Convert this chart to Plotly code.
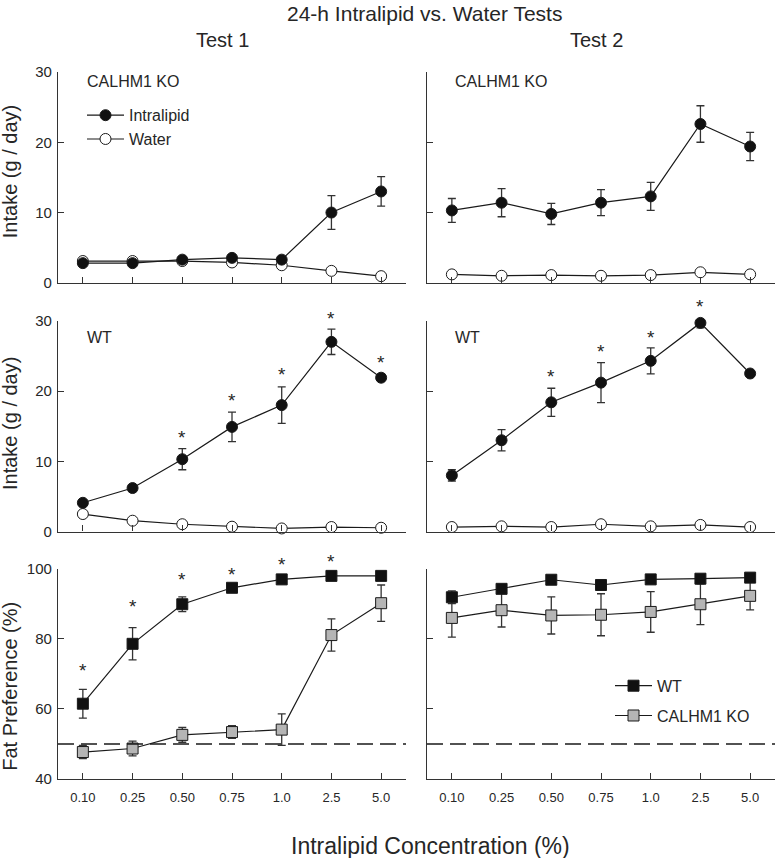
import plotly.graph_objects as go

# ---------------- data ----------------
conc = ["0.10", "0.25", "0.50", "0.75", "1.0", "2.5", "5.0"]

# Intake (g/day), CALHM1 KO
ko_t1_lipid = [2.8, 2.8, 3.3, 3.55, 3.3, 10.0, 13.0]
ko_t1_lipid_err = [0.3, 0.3, 0.3, 0.3, 0.3, 2.4, 2.1]
ko_t1_water = [3.1, 3.1, 3.1, 2.9, 2.5, 1.7, 0.95]
ko_t2_lipid = [10.3, 11.4, 9.8, 11.4, 12.3, 22.6, 19.4]
ko_t2_lipid_err = [1.7, 2.0, 1.5, 1.85, 2.0, 2.6, 2.0]
ko_t2_water = [1.2, 1.0, 1.1, 1.0, 1.1, 1.5, 1.2]

# Intake (g/day), WT
wt_t1_lipid = [4.1, 6.2, 10.3, 14.9, 18.0, 27.0, 21.9]
wt_t1_lipid_err = [0.3, 0.5, 1.5, 2.1, 2.6, 1.8, 0.5]
wt_t1_water = [2.5, 1.55, 1.05, 0.7, 0.45, 0.65, 0.55]
wt_t2_lipid = [8.0, 13.0, 18.4, 21.2, 24.3, 29.7, 22.5]
wt_t2_lipid_err = [0.8, 1.5, 2.0, 2.85, 1.85, 0.7, 0.3]
wt_t2_water = [0.65, 0.75, 0.65, 1.05, 0.75, 0.95, 0.65]

water_err = [0.2, 0.2, 0.2, 0.2, 0.2, 0.2, 0.2]

# Fat preference (%)
wt_t1_pref = [61.5, 78.6, 89.9, 94.6, 97.0, 98.0, 98.0]
wt_t1_pref_err = [4.1, 4.6, 2.1, 0.6, 0.4, 0.3, 0.3]
ko_t1_pref = [47.7, 48.7, 52.6, 53.4, 54.1, 81.1, 90.2]
ko_t1_pref_err = [1.9, 2.1, 2.1, 1.8, 4.5, 4.6, 5.2]
wt_t2_pref = [91.9, 94.3, 96.9, 95.4, 97.0, 97.2, 97.5]
wt_t2_pref_err = [1.8, 0.8, 0.5, 0.5, 0.5, 0.5, 0.5]
ko_t2_pref = [86.0, 88.2, 86.7, 86.9, 87.7, 89.9, 92.3]
ko_t2_pref_err = [5.5, 4.8, 5.3, 6.0, 5.8, 5.8, 4.0]

chance_level = 50

# significance asterisks (category, y in data units)
star_wt_t1_intake_x = ["0.50", "0.75", "1.0", "2.5", "5.0"]
star_wt_t1_intake_y = [14.1, 19.4, 23.1, 31.0, 24.8]
star_wt_t2_intake_x = ["0.50", "0.75", "1.0", "2.5"]
star_wt_t2_intake_y = [22.85, 26.3, 28.35, 32.7]
star_t1_pref_x = ["0.10", "0.25", "0.50", "0.75", "1.0", "2.5"]
star_t1_pref_y = [72.5, 90.7, 98.3, 99.9, 102.6, 103.5]

# ---------------- layout geometry ----------------
FW, FH = 777, 858
L, R, T, B = 58, 775, 71.7, 779.3
W, H = R - L, B - T


def px(x):
    return (x - L) / W


def py(y):
    return (B - y) / H


FONT = "Liberation Sans, Arial, sans-serif"
TXT = "#262626"
AX = "#333333"
LINE = "#1a1a1a"

fig = go.Figure()


def add_series(xa, ya, y, err, symbol, fill, name):
    fig.add_trace(go.Scatter(
        x=conc, y=y, xaxis=xa, yaxis=ya, mode="lines+markers", name=name,
        showlegend=False,
        line=dict(color=LINE, width=1.2),
        marker=dict(symbol=symbol, size=11, color=fill, line=dict(color=LINE, width=1)),
        error_y=dict(type="data", array=err, color=AX, thickness=1.3, width=4),
        cliponaxis=False,
    ))


# top row: CALHM1 KO intake
add_series("x", "y", ko_t1_water, water_err, "circle", "white", "Water")
add_series("x", "y", ko_t1_lipid, ko_t1_lipid_err, "circle", "#111111", "Intralipid")
add_series("x2", "y2", ko_t2_water, water_err, "circle", "white", "Water")
add_series("x2", "y2", ko_t2_lipid, ko_t2_lipid_err, "circle", "#111111", "Intralipid")
# middle row: WT intake
add_series("x3", "y3", wt_t1_water, water_err, "circle", "white", "Water")
add_series("x3", "y3", wt_t1_lipid, wt_t1_lipid_err, "circle", "#111111", "Intralipid")
add_series("x4", "y4", wt_t2_water, water_err, "circle", "white", "Water")
add_series("x4", "y4", wt_t2_lipid, wt_t2_lipid_err, "circle", "#111111", "Intralipid")
# bottom row: preference
add_series("x5", "y5", ko_t1_pref, ko_t1_pref_err, "square", "#b5b5b5", "CALHM1 KO")
add_series("x5", "y5", wt_t1_pref, wt_t1_pref_err, "square", "#111111", "WT")
add_series("x6", "y6", ko_t2_pref, ko_t2_pref_err, "square", "#b5b5b5", "CALHM1 KO")
add_series("x6", "y6", wt_t2_pref, wt_t2_pref_err, "square", "#111111", "WT")


def legend_item(name, legend, symbol, fill, group, xa, ya):
    fig.add_trace(go.Scatter(x=[None], y=[None], xaxis=xa, yaxis=ya, mode="lines+markers",
                             name=name, legend=legend, showlegend=True, legendgroup=group,
                             line=dict(color=LINE, width=1.2),
                             marker=dict(symbol=symbol, size=11, color=fill,
                                         line=dict(color=LINE, width=1))))


legend_item("Intralipid", "legend", "circle", "#111111", "i", "x", "y")
legend_item("Water", "legend", "circle", "white", "w", "x", "y")
legend_item("WT", "legend2", "square", "#111111", "a", "x6", "y6")
legend_item("CALHM1 KO", "legend2", "square", "#b5b5b5", "b", "x6", "y6")

# ---------------- axes ----------------
xdomL = [0, px(406)]
xdomR = [px(427), 1]
ydomTop = [py(282.7), py(71.7)]
ydomMid = [py(531.7), py(320.7)]
ydomBot = [0, py(569)]

common = dict(showline=True, linecolor=AX, linewidth=1.3, ticks="inside", ticklen=6,
              tickcolor=AX, tickwidth=1.3, showgrid=False, zeroline=False,
              tickfont=dict(family=FONT, size=15, color=TXT))


def xax(dom, anchor, labels):
    d = dict(common)
    d.update(domain=dom, anchor=anchor, type="category", categoryorder="array",
             categoryarray=conc, range=[-0.5, 6.5], showticklabels=labels,
             tickfont=dict(family=FONT, size=13, color=TXT), ticklabelstandoff=6)
    return d


def yax(dom, anchor, rng, tv, labels):
    d = dict(common)
    d.update(domain=dom, anchor=anchor, range=rng, tickvals=tv, showticklabels=labels,
             ticklabelstandoff=2)
    return d


intake_range = [0, 30]
pref_range = [40, 100]
intake_ticks = [0, 10, 20, 30]
pref_ticks = [40, 60, 80, 100]

fig.update_layout(
    width=FW, height=FH,
    margin=dict(l=L, r=FW - R, t=T, b=FH - B),
    paper_bgcolor="white", plot_bgcolor="white",
    font=dict(family=FONT, color=TXT),
    xaxis=xax(xdomL, "y", False),
    xaxis2=xax(xdomR, "y2", False),
    xaxis3=xax(xdomL, "y3", False),
    xaxis4=xax(xdomR, "y4", False),
    xaxis5=xax(xdomL, "y5", True),
    xaxis6=xax(xdomR, "y6", True),
    yaxis=yax(ydomTop, "x", intake_range, intake_ticks, True),
    yaxis2=yax(ydomTop, "x2", intake_range, intake_ticks, False),
    yaxis3=yax(ydomMid, "x3", intake_range, intake_ticks, True),
    yaxis4=yax(ydomMid, "x4", intake_range, intake_ticks, False),
    yaxis5=yax(ydomBot, "x5", pref_range, pref_ticks, True),
    yaxis6=yax(ydomBot, "x6", pref_range, pref_ticks, False),
    legend=dict(x=px(82), y=py(98), xanchor="left", yanchor="top",
                bgcolor="rgba(0,0,0,0)", font=dict(family=FONT, size=16, color=TXT),
                itemwidth=37, traceorder="grouped", tracegroupgap=0),
    legend2=dict(x=px(610), y=py(669), xanchor="left", yanchor="top",
                 bgcolor="rgba(0,0,0,0)", font=dict(family=FONT, size=16, color=TXT),
                 itemwidth=37, traceorder="grouped", tracegroupgap=6),
    showlegend=True,
)

# chance lines
for xa, ya in (("x5", "y5"), ("x6", "y6")):
    fig.add_shape(type="line", xref=xa + " domain", x0=0, x1=1, yref=ya,
                  y0=chance_level, y1=chance_level,
                  line=dict(color=LINE, width=1.3, dash="16px,7px"))

ann = []


def text(x, y, s, size, xanchor="center", **kw):
    d = dict(x=px(x), y=py(y), xref="paper", yref="paper", text=s, showarrow=False,
             xanchor=xanchor, yanchor="middle",
             font=dict(family=FONT, size=size, color=TXT))
    d.update(kw)
    ann.append(d)


text(424, 13, "24-h Intralipid vs. Water Tests", 21)
text(222.7, 40, "Test 1", 20)
text(596.7, 40, "Test 2", 20)
text(430, 846, "Intralipid Concentration (%)", 23)
text(85, 81, "CALHM1 KO", 16, xanchor="left")
text(453, 81, "CALHM1 KO", 16, xanchor="left")
text(85, 337, "WT", 16, xanchor="left")
text(453, 337, "WT", 16, xanchor="left")
text(10, 172, "Intake (g / day)", 20, textangle=-90)
text(10, 424, "Intake (g / day)", 20, textangle=-90)
text(10, 687, "Fat Preference (%)", 20, textangle=-90)

# asterisks: annotations above the axis top are anchored at the top of the range
# and raised by the remaining distance (pixels per data unit of that panel)
panel_h = py(71.7) - py(282.7)
for xs, ys, xa, ya, rng in ((star_wt_t1_intake_x, star_wt_t1_intake_y, "x3", "y3", intake_range),
                            (star_wt_t2_intake_x, star_wt_t2_intake_y, "x4", "y4", intake_range),
                            (star_t1_pref_x, star_t1_pref_y, "x5", "y5", pref_range)):
    ppu = panel_h * H / (rng[1] - rng[0])
    for xv, yv in zip(xs, ys):
        yc = min(yv, rng[1])
        ann.append(dict(x=conc.index(xv), y=yc, xref=xa, yref=ya, text="*", showarrow=False,
                        xanchor="center", yanchor="middle", yshift=-5 + (yv - yc) * ppu,
                        font=dict(family=FONT, size=19, color=TXT)))

fig.update_layout(annotations=ann)
fig.write_html("out.html", config={"displayModeBar": False},
               post_script="document.body.style.margin='0px';")
